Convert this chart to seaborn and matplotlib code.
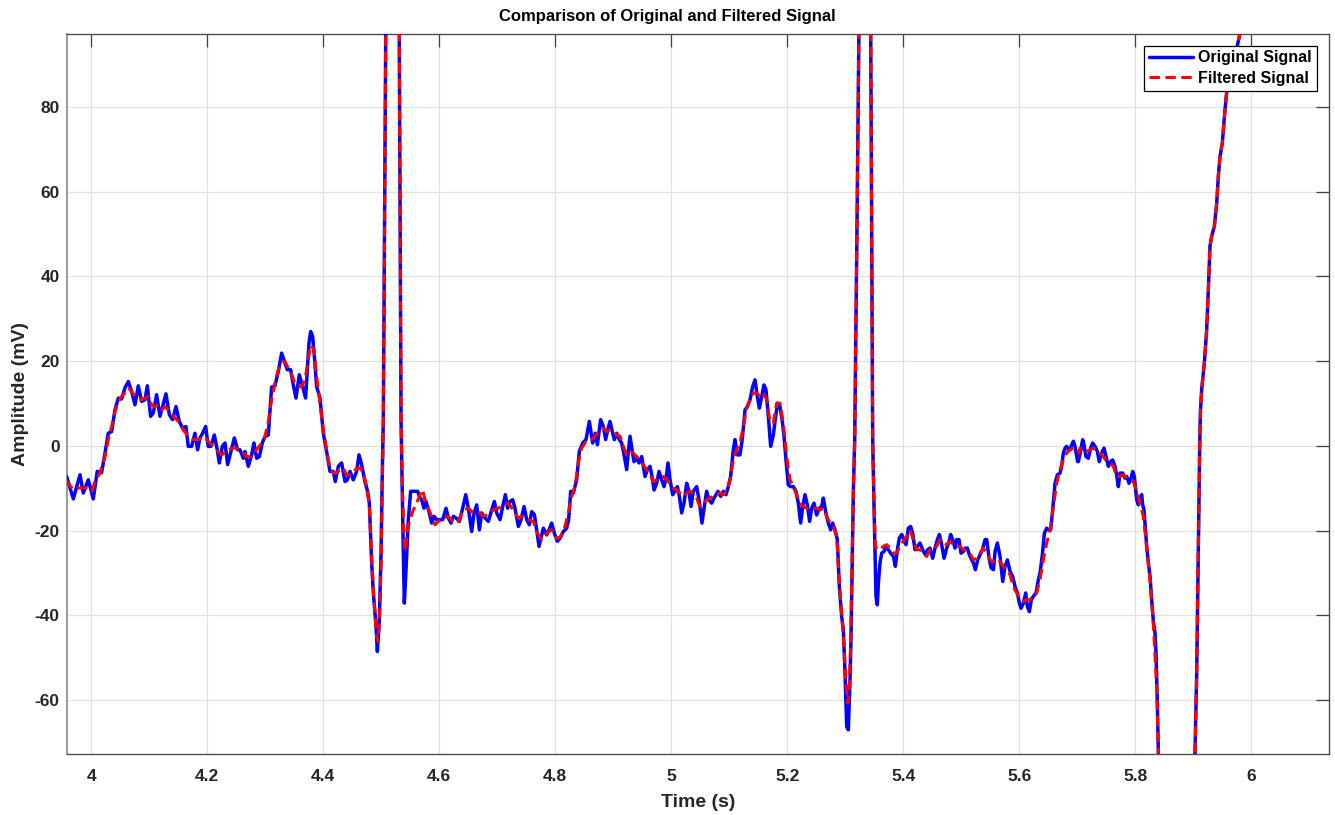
import matplotlib
matplotlib.use("Agg")
import matplotlib.pyplot as plt
import seaborn as sns
import numpy as np
from matplotlib.ticker import FixedLocator, FuncFormatter

# ---------------- data ----------------
# Original signal, segment 1 (3.95 s - 4.48 s)
orig_t1 = [3.9550, 3.9575, 3.9690, 3.9805, 3.9862, 3.9948, 4.0034, 4.0103, 4.0178, 4.0236,
           4.0293, 4.0351, 4.0408, 4.0466, 4.0523, 4.0580, 4.0638, 4.0695, 4.0753, 4.0810,
           4.0868, 4.0925, 4.0966, 4.1023, 4.1069, 4.1126, 4.1184, 4.1230, 4.1287, 4.1345,
           4.1402, 4.1460, 4.1517, 4.1575, 4.1632, 4.1672, 4.1730, 4.1787, 4.1833, 4.1874,
           4.1920, 4.1971, 4.2017, 4.2063, 4.2121, 4.2172, 4.2207, 4.2259, 4.2305, 4.2351,
           4.2408, 4.2466, 4.2523, 4.2563, 4.2621, 4.2649, 4.2707, 4.2764, 4.2805, 4.2851,
           4.2897, 4.2948, 4.2994, 4.3052, 4.3109, 4.3167, 4.3224, 4.3282, 4.3322, 4.3379,
           4.3437, 4.3483, 4.3529, 4.3586, 4.3644, 4.3695, 4.3753, 4.3782, 4.3816, 4.3851,
           4.3885, 4.3943, 4.4000, 4.4057, 4.4115, 4.4172, 4.4207, 4.4259, 4.4316, 4.4374,
           4.4414, 4.4460, 4.4517, 4.4575, 4.4615, 4.4661, 4.4718, 4.4764]
orig_v1 = [-7.2, -7.2, -12.5, -6.8, -11.1, -8.0, -12.5, -6.0, -6.3, -1.7,
           3.0, 3.4, 8.5, 11.3, 11.1, 13.7, 15.2, 12.9, 9.7, 14.2,
           10.5, 10.9, 14.2, 7.0, 7.8, 12.1, 7.0, 9.3, 12.3, 7.4,
           6.2, 9.3, 5.8, 4.2, 4.6, -0.1, -0.1, 3.0, -0.9, 1.9,
           3.0, 4.6, -0.1, -0.1, 2.6, -0.9, -4.0, -0.1, 0.7, -4.4,
           -1.3, 1.9, -0.9, -0.9, -2.9, -1.3, -4.8, -2.1, 0.7, -2.9,
           -2.5, 0.7, 2.2, 2.6, 13.9, 14.2, 17.6, 21.9, 20.3, 18.0,
           18.0, 14.4, 11.3, 16.8, 14.0, 11.3, 24.3, 27.0, 25.9, 20.3,
           14.0, 11.3, 3.0, -1.3, -6.0, -6.0, -8.4, -4.8, -4.0, -8.4,
           -8.0, -6.0, -8.0, -6.0, -2.1, -4.4, -8.4, -10.7]

# Original signal, segment 2 (first QRS and following segment)
orig_t2 = [4.4794, 4.4834, 4.4863, 4.4909, 4.4932, 4.4966, 4.4995, 4.5018, 4.5035, 4.5060,
           4.5080, 4.5120, 4.5170, 4.5210, 4.5250, 4.5285, 4.5310, 4.5325, 4.5340, 4.5380,
           4.5397, 4.5426, 4.5466, 4.5506, 4.5581, 4.5627, 4.5656, 4.5696, 4.5736, 4.5771,
           4.5828, 4.5868, 4.5909, 4.5955, 4.6001, 4.6058, 4.6116, 4.6156, 4.6202, 4.6242,
           4.6288, 4.6346, 4.6403, 4.6455, 4.6501, 4.6558, 4.6599, 4.6645, 4.6691, 4.6731,
           4.6788, 4.6846, 4.6903, 4.6949, 4.6989, 4.7047, 4.7093, 4.7139, 4.7179, 4.7219,
           4.7265, 4.7305, 4.7363, 4.7409, 4.7461, 4.7507, 4.7552, 4.7593, 4.7639, 4.7679,
           4.7719, 4.7753, 4.7794, 4.7851, 4.7891, 4.7937, 4.7983, 4.8035, 4.8081, 4.8138,
           4.8196, 4.8230, 4.8265, 4.8311, 4.8368, 4.8414, 4.8472, 4.8529, 4.8587, 4.8644,
           4.8690, 4.8725, 4.8782]
orig_v2 = [-13.5, -27.7, -34.7, -42.6, -48.5, -41.0, -25.3, -5.6, 6.2, 60.0,
           105.0, 190.0, 250.0, 270.0, 230.0, 160.0, 97.0, 50.0, 6.2, -25.3,
           -37.1, -29.2, -17.4, -10.7, -10.7, -10.7, -11.9, -12.7, -14.7, -13.1,
           -15.8, -18.2, -16.6, -17.4, -17.4, -17.4, -14.7, -17.0, -18.2, -16.6,
           -17.0, -17.8, -14.7, -11.5, -14.7, -20.2, -15.8, -13.9, -19.8, -15.8,
           -17.0, -17.8, -15.1, -13.1, -15.8, -17.4, -14.3, -11.5, -14.7, -13.1,
           -12.7, -14.7, -19.0, -17.4, -14.3, -17.4, -18.6, -15.5, -16.2, -19.8,
           -23.7, -21.8, -19.4, -21.0, -19.8, -18.2, -20.6, -22.5, -21.8, -20.2,
           -19.4, -17.4, -10.7, -11.1, -8.0, -1.3, 0.7, 1.5, 5.8, 0.7,
           3.0, 0.3, 6.2]

# Original signal, segment 3 (4.88 s - 5.29 s)
orig_t3 = [4.8828, 4.8868, 4.8903, 4.8943, 4.8983, 4.9018, 4.9058, 4.9104, 4.9144, 4.9185,
           4.9231, 4.9259, 4.9288, 4.9328, 4.9357, 4.9403, 4.9443, 4.9489, 4.9518, 4.9547,
           4.9587, 4.9633, 4.9673, 4.9702, 4.9748, 4.9788, 4.9834, 4.9874, 4.9909, 4.9943,
           4.9978, 5.0024, 5.0064, 5.0104, 5.0139, 5.0179, 5.0219, 5.0265, 5.0299, 5.0340,
           5.0380, 5.0437, 5.0483, 5.0529, 5.0569, 5.0609, 5.0649, 5.0695, 5.0736, 5.0770,
           5.0805, 5.0851, 5.0897, 5.0943, 5.0983, 5.1023, 5.1069, 5.1098, 5.1138, 5.1184,
           5.1225, 5.1271, 5.1311, 5.1357, 5.1403, 5.1443, 5.1483, 5.1518, 5.1558, 5.1598,
           5.1632, 5.1673, 5.1713, 5.1759, 5.1799, 5.1833, 5.1874, 5.1914, 5.1943, 5.1977,
           5.2017, 5.2058, 5.2104, 5.2149, 5.2190, 5.2230, 5.2265, 5.2305, 5.2345, 5.2385,
           5.2420, 5.2460, 5.2506, 5.2552, 5.2592, 5.2621, 5.2661, 5.2707, 5.2747, 5.2782,
           5.2822, 5.2862]
orig_v3 = [4.6, 1.5, 3.8, 5.8, 3.4, 1.5, 3.0, 1.5, 0.7, -2.1,
           -5.6, -1.3, 2.3, -1.3, -3.7, -2.9, -4.0, -2.5, -4.8, -7.2,
           -5.6, -4.8, -7.6, -10.4, -8.8, -6.0, -8.0, -9.6, -7.6, -4.0,
           -8.0, -11.5, -10.7, -9.6, -11.9, -15.8, -13.5, -8.8, -10.4, -14.3,
           -10.7, -9.6, -13.1, -18.2, -14.3, -10.7, -12.7, -13.5, -12.3, -11.5,
           -10.7, -11.9, -10.7, -11.5, -9.6, -7.2, -0.9, 1.5, -2.1, -2.1,
           1.8, 8.5, 9.3, 10.9, 14.0, 15.6, 11.7, 8.9, 11.7, 14.4,
           13.3, 7.0, -0.1, 2.6, 7.0, 10.1, 9.3, 5.8, 2.3, -3.3,
           -9.2, -9.6, -9.6, -10.7, -13.5, -18.2, -14.3, -11.5, -13.9, -17.8,
           -14.7, -13.5, -16.3, -14.7, -14.3, -12.3, -15.5, -18.2, -19.8, -18.2,
           -19.8, -22.1]

# Original signal, segment 4 (second QRS and 5.35 s - 5.70 s)
orig_t4 = [5.2897, 5.2937, 5.2966, 5.2995, 5.3024, 5.3052, 5.3081, 5.3098, 5.3116, 5.3139,
           5.3162, 5.3200, 5.3234, 5.3280, 5.3330, 5.3370, 5.3405, 5.3438, 5.3455, 5.3472,
           5.3495, 5.3512, 5.3529, 5.3552, 5.3570, 5.3598, 5.3627, 5.3668, 5.3702, 5.3742,
           5.3783, 5.3829, 5.3863, 5.3897, 5.3932, 5.3972, 5.4012, 5.4047, 5.4087, 5.4127,
           5.4161, 5.4202, 5.4242, 5.4288, 5.4334, 5.4380, 5.4420, 5.4460, 5.4506, 5.4547,
           5.4587, 5.4621, 5.4656, 5.4702, 5.4748, 5.4782, 5.4817, 5.4851, 5.4891, 5.4920,
           5.4960, 5.4995, 5.5035, 5.5070, 5.5104, 5.5139, 5.5179, 5.5208, 5.5242, 5.5282,
           5.5323, 5.5363, 5.5409, 5.5438, 5.5478, 5.5513, 5.5553, 5.5582, 5.5622, 5.5668,
           5.5714, 5.5754, 5.5794, 5.5840, 5.5886, 5.5926, 5.5967, 5.6001, 5.6030, 5.6070,
           5.6110, 5.6139, 5.6173, 5.6207, 5.6242, 5.6288, 5.6328, 5.6357, 5.6397, 5.6432,
           5.6472, 5.6501, 5.6541, 5.6575, 5.6616, 5.6656, 5.6702, 5.6730, 5.6759, 5.6788,
           5.6817, 5.6845, 5.6874, 5.6903, 5.6932, 5.6960, 5.7006]
orig_v4 = [-33.2, -40.2, -43.4, -53.6, -66.2, -67.0, -55.2, -45.7, -30.0, -10.3,
           1.5, 50.0, 97.3, 160.0, 210.0, 210.0, 160.0, 97.3, 50.0, 1.5,
           -14.3, -24.5, -35.5, -37.5, -32.4, -27.6, -25.3, -24.9, -23.7, -24.5,
           -25.3, -26.1, -28.4, -24.5, -21.7, -20.9, -22.1, -23.3, -19.4, -19.0,
           -20.6, -24.5, -23.7, -22.9, -24.5, -25.7, -24.5, -24.1, -26.5, -24.1,
           -22.1, -20.9, -22.9, -26.5, -24.1, -22.9, -20.9, -22.1, -24.1, -22.1,
           -22.1, -25.3, -24.9, -24.1, -24.1, -25.7, -26.9, -27.6, -29.2, -26.9,
           -25.7, -24.5, -22.1, -22.1, -26.5, -28.8, -29.2, -24.9, -22.9, -26.1,
           -32.0, -28.4, -26.9, -29.6, -30.8, -33.2, -34.7, -37.1, -38.3, -37.1,
           -34.7, -37.9, -39.1, -36.3, -35.5, -34.7, -31.6, -30.0, -25.7, -20.6,
           -19.4, -19.8, -19.8, -15.1, -8.8, -6.8, -6.4, -4.8, -1.7, -0.5,
           -0.1, -0.9, -0.9, 0.3, 1.1, -0.1, -3.7]

# Original signal, segment 5 (5.70 s - end)
orig_t5 = [5.7017, 5.7057, 5.7092, 5.7115, 5.7149, 5.7190, 5.7230, 5.7264, 5.7305, 5.7345,
           5.7379, 5.7420, 5.7460, 5.7494, 5.7535, 5.7575, 5.7609, 5.7649, 5.7678, 5.7707,
           5.7736, 5.7782, 5.7822, 5.7851, 5.7891, 5.7926, 5.7955, 5.7983, 5.8024, 5.8052,
           5.8081, 5.8110, 5.8127, 5.8150, 5.8196, 5.8225, 5.8254, 5.8282, 5.8311, 5.8340,
           5.8357, 5.8380, 5.8397, 5.8450, 5.8550, 5.8700, 5.8850, 5.8950, 5.9029, 5.9058,
           5.9080, 5.9095, 5.9110, 5.9122, 5.9144, 5.9190, 5.9230, 5.9259, 5.9287, 5.9316,
           5.9362, 5.9403, 5.9431, 5.9460, 5.9500, 5.9546, 5.9586, 5.9700, 5.9805, 5.9900]
orig_v5 = [-3.7, -1.3, 1.5, 0.3, -2.5, -2.9, -0.5, 0.7, -0.1, -1.3,
           -3.7, -1.7, -0.5, -2.5, -4.8, -3.7, -3.3, -4.8, -6.8, -9.6,
           -6.4, -6.4, -7.6, -7.2, -8.8, -7.6, -6.0, -7.2, -12.7, -13.9,
           -12.3, -11.5, -13.9, -15.1, -23.7, -27.6, -30.8, -36.3, -41.4, -44.2,
           -48.9, -60.7, -72.5, -95.0, -115.0, -125.0, -115.0, -95.0, -72.5, -53.6,
           -31.6, -15.0, 0.0, 8.0, 13.3, 19.6, 27.4, 36.9, 47.1, 49.5,
           51.8, 57.3, 63.6, 68.3, 71.5, 79.4, 85.0, 90.7, 97.4, 104.0]

# Filtered signal, segment 1
filt_t1 = [3.9550, 3.9575, 3.9690, 3.9776, 3.9862, 3.9948, 4.0006, 4.0063, 4.0149, 4.0236,
           4.0293, 4.0351, 4.0408, 4.0466, 4.0523, 4.0580, 4.0638, 4.0695, 4.0753, 4.0810,
           4.0868, 4.0925, 4.0983, 4.1040, 4.1098, 4.1155, 4.1213, 4.1270, 4.1328, 4.1385,
           4.1443, 4.1500, 4.1586, 4.1672, 4.1759, 4.1845, 4.1931, 4.1989, 4.2075, 4.2161,
           4.2247, 4.2333, 4.2420, 4.2506, 4.2592, 4.2678, 4.2764, 4.2851, 4.2937, 4.2994,
           4.3052, 4.3109, 4.3167, 4.3224, 4.3282, 4.3339, 4.3397, 4.3454, 4.3511, 4.3569,
           4.3626, 4.3684, 4.3741, 4.3782, 4.3839, 4.3885, 4.3943, 4.4000, 4.4057, 4.4115,
           4.4172, 4.4230, 4.4287, 4.4345, 4.4402, 4.4460, 4.4517, 4.4575, 4.4632, 4.4690,
           4.4747]
filt_v1 = [-8.4, -8.4, -10.3, -9.9, -9.9, -9.9, -10.7, -8.4, -6.4, -2.5,
           1.5, 4.6, 8.1, 10.5, 11.7, 12.6, 13.7, 12.9, 11.7, 11.3,
           10.9, 11.3, 11.7, 9.7, 9.3, 9.7, 8.5, 9.3, 8.5, 7.4,
           6.6, 5.8, 3.8, 2.2, 1.5, 1.5, 2.2, 1.5, 0.3, -0.9,
           -2.1, -1.3, -0.5, -0.5, -1.3, -2.5, -2.5, -0.9, 0.7, 2.2,
           5.8, 10.9, 14.8, 18.0, 19.9, 19.9, 18.4, 16.8, 14.8, 13.9,
           14.0, 15.6, 20.3, 23.8, 22.7, 16.4, 10.1, 3.8, -0.9, -5.2,
           -6.4, -6.4, -5.6, -5.2, -6.8, -6.8, -6.4, -5.2, -5.2, -6.4,
           -9.6]

# Filtered signal, segment 2
filt_t2 = [4.4794, 4.4834, 4.4874, 4.4920, 4.4949, 4.4977, 4.5000, 4.5023, 4.5035, 4.5060,
           4.5080, 4.5120, 4.5170, 4.5210, 4.5250, 4.5285, 4.5310, 4.5325, 4.5340, 4.5363,
           4.5392, 4.5415, 4.5449, 4.5495, 4.5552, 4.5610, 4.5667, 4.5713, 4.5753, 4.5811,
           4.5868, 4.5926, 4.5983, 4.6070, 4.6156, 4.6242, 4.6328, 4.6415, 4.6501, 4.6587,
           4.6673, 4.6759, 4.6846, 4.6932, 4.7018, 4.7104, 4.7190, 4.7277, 4.7363, 4.7449,
           4.7535, 4.7621, 4.7690, 4.7765, 4.7851, 4.7937, 4.8023, 4.8092, 4.8167, 4.8224,
           4.8282, 4.8339, 4.8397, 4.8454, 4.8511, 4.8569, 4.8626, 4.8684, 4.8741]
filt_v2 = [-14.3, -26.1, -36.3, -45.0, -46.2, -37.9, -25.3, -5.6, 6.2, 60.0,
           105.0, 190.0, 250.0, 270.0, 230.0, 160.0, 97.0, 50.0, 6.2, -9.6,
           -22.1, -24.9, -19.8, -17.4, -15.1, -13.5, -11.5, -10.3, -12.7, -14.7,
           -16.6, -18.6, -17.8, -17.0, -16.6, -18.2, -17.8, -15.1, -14.7, -15.8,
           -15.5, -16.6, -16.2, -15.1, -14.7, -13.9, -13.5, -15.1, -17.0, -16.6,
           -17.4, -17.8, -20.6, -22.1, -20.6, -19.8, -21.8, -21.4, -19.0, -15.8,
           -11.9, -9.6, -4.0, -0.5, 0.7, 1.5, 1.5, 2.2, 3.4]

# Filtered signal, segment 3
filt_t3 = [4.8828, 4.8886, 4.8943, 4.9001, 4.9058, 4.9116, 4.9173, 4.9231, 4.9288, 4.9345,
           4.9403, 4.9460, 4.9518, 4.9575, 4.9633, 4.9690, 4.9748, 4.9805, 4.9862, 4.9920,
           4.9977, 5.0035, 5.0092, 5.0150, 5.0207, 5.0265, 5.0322, 5.0380, 5.0437, 5.0494,
           5.0552, 5.0609, 5.0667, 5.0724, 5.0782, 5.0839, 5.0897, 5.0954, 5.1011, 5.1069,
           5.1126, 5.1184, 5.1241, 5.1299, 5.1356, 5.1414, 5.1471, 5.1529, 5.1586, 5.1644,
           5.1701, 5.1759, 5.1816, 5.1874, 5.1931, 5.1989, 5.2046, 5.2103, 5.2161, 5.2218,
           5.2276, 5.2333, 5.2391, 5.2448, 5.2506, 5.2563, 5.2621, 5.2678, 5.2736, 5.2793,
           5.2851]
filt_v3 = [4.2, 3.4, 3.8, 3.4, 2.6, 2.3, -0.1, -2.1, -1.3, -1.7,
           -2.5, -3.3, -4.5, -5.6, -6.8, -8.4, -8.0, -7.6, -7.2, -8.0,
           -8.8, -10.0, -10.4, -11.1, -11.9, -11.1, -10.7, -11.1, -12.3, -14.3,
           -13.9, -12.7, -12.3, -11.9, -11.5, -11.1, -11.5, -10.7, -8.0, -3.3,
           -0.9, 0.7, 4.6, 8.9, 10.9, 12.5, 12.5, 11.7, 12.5, 10.9,
           5.8, 5.4, 10.1, 10.1, 5.4, -2.5, -8.0, -9.6, -11.5, -13.5,
           -14.3, -14.7, -15.1, -14.7, -14.7, -15.1, -14.7, -16.6, -18.2, -19.0,
           -21.4]

# Filtered signal, segment 4
filt_t4 = [5.2897, 5.2937, 5.2977, 5.3012, 5.3041, 5.3064, 5.3087, 5.3110, 5.3133, 5.3162,
           5.3200, 5.3234, 5.3280, 5.3330, 5.3370, 5.3405, 5.3438, 5.3455, 5.3472, 5.3495,
           5.3518, 5.3552, 5.3598, 5.3655, 5.3713, 5.3770, 5.3828, 5.3885, 5.3943, 5.4000,
           5.4057, 5.4115, 5.4172, 5.4230, 5.4287, 5.4345, 5.4402, 5.4460, 5.4517, 5.4575,
           5.4632, 5.4690, 5.4747, 5.4805, 5.4862, 5.4920, 5.4977, 5.5035, 5.5092, 5.5149,
           5.5207, 5.5264, 5.5322, 5.5379, 5.5437, 5.5494, 5.5552, 5.5609, 5.5667, 5.5724,
           5.5782, 5.5839, 5.5897, 5.5954, 5.6011, 5.6069, 5.6126, 5.6184, 5.6241, 5.6299,
           5.6356, 5.6414, 5.6471, 5.6529, 5.6586, 5.6644, 5.6701, 5.6759, 5.6816, 5.6874,
           5.6931, 5.6989, 5.7034]
filt_v4 = [-32.4, -39.4, -47.3, -56.0, -60.7, -58.3, -48.9, -31.6, -14.3, 1.5,
           50.0, 97.3, 160.0, 210.0, 210.0, 160.0, 97.3, 50.0, 1.5, -14.3,
           -23.7, -24.5, -24.5, -23.7, -23.3, -24.1, -25.3, -25.3, -23.7, -22.5,
           -21.4, -19.8, -22.1, -24.5, -24.5, -24.9, -26.1, -24.5, -24.5, -23.7,
           -22.1, -22.9, -23.3, -22.5, -23.3, -23.7, -23.7, -24.5, -24.9, -25.3,
           -26.9, -26.5, -25.3, -24.1, -25.3, -26.9, -27.3, -26.5, -27.3, -28.4,
           -29.2, -30.4, -33.2, -34.7, -35.9, -36.7, -36.3, -36.3, -35.5, -34.7,
           -31.6, -26.9, -22.9, -19.8, -14.3, -8.8, -5.6, -3.3, -1.7, -0.9,
           -0.5, -0.5, -1.7]

# Filtered signal, segment 5
filt_t5 = [5.7046, 5.7104, 5.7161, 5.7219, 5.7276, 5.7334, 5.7391, 5.7449, 5.7506, 5.7564,
           5.7621, 5.7678, 5.7736, 5.7793, 5.7851, 5.7908, 5.7966, 5.8023, 5.8080, 5.8138,
           5.8195, 5.8253, 5.8310, 5.8368, 5.8397, 5.8450, 5.8550, 5.8700, 5.8850, 5.8950,
           5.9029, 5.9058, 5.9080, 5.9095, 5.9110, 5.9122, 5.9144, 5.9190, 5.9230, 5.9259,
           5.9287, 5.9316, 5.9362, 5.9403, 5.9431, 5.9460, 5.9500, 5.9546, 5.9586, 5.9700,
           5.9805, 5.9900]
filt_v5 = [-0.5, -0.9, -1.3, -0.9, -0.5, -1.3, -1.7, -2.5, -3.7, -4.0,
           -4.8, -7.2, -7.2, -6.8, -7.6, -8.0, -8.4, -10.7, -13.5, -16.6,
           -23.7, -31.6, -41.8, -56.8, -72.5, -95.0, -115.0, -125.0, -115.0, -95.0,
           -72.5, -53.6, -31.6, -15.0, 0.0, 8.0, 13.3, 19.6, 27.4, 36.9,
           47.1, 49.5, 51.8, 57.3, 63.6, 68.3, 71.5, 79.4, 85.0, 90.7,
           97.4, 104.0]

x_ticks = [4.0, 4.2, 4.4, 4.6, 4.8, 5.0, 5.2, 5.4, 5.6, 5.8, 6.0]
y_ticks = [-60, -40, -20, 0, 20, 40, 60, 80]
x_limits = (3.9576, 6.1334)
y_limits = (-72.7, 97.3)

title_text = "Comparison of Original and Filtered Signal"
x_label = "Time (s)"
y_label = "Amplitude (mV)"
series_labels = ["Original Signal", "Filtered Signal"]

# ---------------- build series ----------------
orig_t = orig_t1 + orig_t2 + orig_t3 + orig_t4 + orig_t5
orig_v = orig_v1 + orig_v2 + orig_v3 + orig_v4 + orig_v5
filt_t = filt_t1 + filt_t2 + filt_t3 + filt_t4 + filt_t5
filt_v = filt_v1 + filt_v2 + filt_v3 + filt_v4 + filt_v5

# ---------------- style ----------------
sns.set_style("white")
plt.rcParams["font.family"] = ["Liberation Sans", "DejaVu Sans"]
plt.rcParams["font.weight"] = "bold"

fig = plt.figure(figsize=(13.35, 8.15), dpi=100)
ax = fig.add_axes([66.7 / 1335, (815 - 754) / 815, (1328.7 - 66.7) / 1335, (754 - 33.7) / 815])

sns.lineplot(x=orig_t, y=orig_v, sort=False, estimator=None, color=(0, 0, 1),
             linewidth=2.5, label=series_labels[0], ax=ax, zorder=3)
sns.lineplot(x=filt_t, y=filt_v, sort=False, estimator=None, color=(1, 0, 0),
             linewidth=2.2, linestyle=(0, (3.4, 1.8)), label=series_labels[1], ax=ax, zorder=4)

ax.set_xlim(*x_limits)
ax.set_ylim(*y_limits)
ax.xaxis.set_major_locator(FixedLocator(x_ticks))
ax.yaxis.set_major_locator(FixedLocator(y_ticks))
ax.xaxis.set_major_formatter(FuncFormatter(lambda v, p: f"{v:g}"))
ax.yaxis.set_major_formatter(FuncFormatter(lambda v, p: f"{v:g}"))

ax.grid(True, color="#e2e2e2", linewidth=0.9)
ax.set_axisbelow(True)

tick_color = "#262626"
ax.tick_params(axis="both", which="major", direction="in", top=True, right=True,
               length=9.5, width=0.9, color="#404040", labelcolor=tick_color,
               labelsize=12.5)
ax.tick_params(axis="x", pad=11)
ax.tick_params(axis="y", pad=5)
for lab in ax.get_xticklabels() + ax.get_yticklabels():
    lab.set_fontweight("bold")

for side in ["left", "right", "top", "bottom"]:
    ax.spines[side].set_visible(True)
    ax.spines[side].set_color("#4d4d4d")
    ax.spines[side].set_linewidth(1.0)
ax.spines["left"].set_color("#9a9a9a")
ax.spines["left"].set_linewidth(1.4)

ax.set_xlabel(x_label, fontsize=14, fontweight="bold", color=tick_color)
ax.set_ylabel(y_label, fontsize=14, fontweight="bold", color=tick_color)
ax.xaxis.set_label_coords(0.5, -0.055)
ax.yaxis.set_label_coords(-0.030, 0.5)

fig.text(0.5, 1 - 17 / 815, title_text, ha="center", va="center",
         fontsize=12, fontweight="bold", color="black")

leg = ax.legend(loc="upper right", frameon=True, fancybox=False, shadow=False,
                edgecolor="black", facecolor="white", framealpha=1.0,
                prop={"size": 11.5, "weight": "bold"}, handlelength=2.75,
                handletextpad=0.35, borderpad=0.3, labelspacing=0.35,
                borderaxespad=0.75)
leg.get_frame().set_linewidth(0.9)
for txt in leg.get_texts():
    txt.set_color("black")

fig.savefig("out.png", dpi=100)
